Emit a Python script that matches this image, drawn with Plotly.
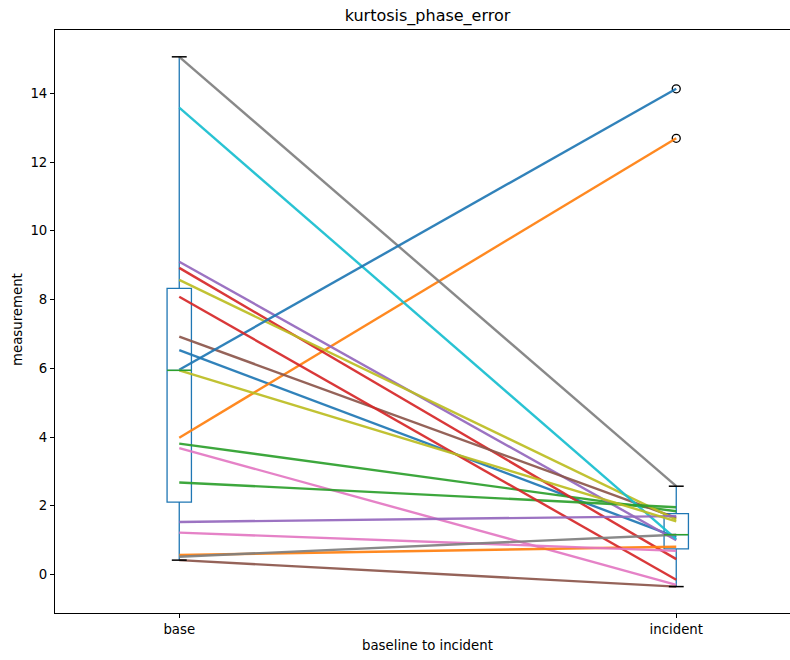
import numpy as np
import plotly.graph_objects as go

title = "kurtosis_phase_error"
categories = ["base", "incident"]
x_label = "baseline to incident"
y_label = "measurement"

# paired values (base -> incident), in plotting order
base_values = [6.53, 3.98, 3.81, 8.92, 9.10, 6.92, 3.68, 15.06, 8.57, 13.58,
               5.96, 0.57, 2.68, 8.08, 1.53, 0.42, 1.22, 0.52, 5.94]
incident_values = [1.09, 12.69, 1.84, 0.45, 1.00, 1.65, -0.30, 2.57, 1.60, 1.03,
                   14.13, 0.81, 1.96, -0.15, 1.70, -0.35, 0.69, 1.16, 1.55]

y_ticks = [0, 2, 4, 6, 8, 10, 12, 14]

tab10 = ["#1f77b4", "#ff7f0e", "#2ca02c", "#d62728", "#9467bd",
         "#8c564b", "#e377c2", "#7f7f7f", "#bcbd22", "#17becf"]

positions = [1, 2]
box_w = 0.049
cap_w = 0.03
FONT = "DejaVu Sans"

fig = go.Figure()

# paired lines
for i, (b, a) in enumerate(zip(base_values, incident_values)):
    fig.add_trace(go.Scatter(
        x=positions, y=[b, a], mode="lines",
        line=dict(color=tab10[i % 10], width=2.4),
        opacity=0.92, showlegend=False, hoverinfo="skip"))

# boxes
for pos, vals in zip(positions, [base_values, incident_values]):
    fig.add_trace(go.Box(
        x=[pos] * len(vals), y=vals, width=box_w,
        quartilemethod="inclusive", boxpoints="outliers",
        jitter=0, pointpos=0, whiskerwidth=0,
        fillcolor="rgba(0,0,0,0)",
        line=dict(color="#1f77b4", width=1.3),
        marker=dict(symbol="circle-open", color="black", size=8,
                    line=dict(width=1.3, color="black")),
        showlegend=False))
    arr = np.array(vals)
    q1, med, q3 = np.percentile(arr, [25, 50, 75])
    iqr = q3 - q1
    lo = arr[arr >= q1 - 1.5 * iqr].min()
    hi = arr[arr <= q3 + 1.5 * iqr].max()
    # median (green)
    fig.add_trace(go.Scatter(
        x=[pos - box_w / 2, pos + box_w / 2], y=[med, med], mode="lines",
        line=dict(color="#2ca02c", width=1.5), showlegend=False, hoverinfo="skip"))
    # caps (black)
    for v in (lo, hi):
        fig.add_trace(go.Scatter(
            x=[pos - cap_w / 2, pos + cap_w / 2], y=[v, v], mode="lines",
            line=dict(color="black", width=1.5), showlegend=False, hoverinfo="skip"))

fig.update_layout(
    width=790, height=660,
    margin=dict(l=55, r=0, t=30, b=47, pad=0, autoexpand=False),
    paper_bgcolor="white", plot_bgcolor="white",
    font=dict(family=FONT, size=13.3, color="black"),
    title=dict(text=title, x=427.5 / 790, xref="container", xanchor="center",
               y=1 - 15 / 660, yref="container", yanchor="middle",
               automargin=False,
               font=dict(family=FONT, size=16, color="black")),
    showlegend=False,
)
fig.update_xaxes(
    range=[0.75, 0.75 + 735 / 497], tickmode="array", tickvals=positions,
    ticktext=categories, showgrid=False, zeroline=False, automargin=False,
    showline=True, linecolor="black", linewidth=1, mirror=True,
    ticks="outside", ticklen=4, tickcolor="black",
    tickfont=dict(family=FONT, size=13.3, color="black"))
fig.update_yaxes(
    range=[-1.118, 15.84], tickmode="array", tickvals=y_ticks,
    showgrid=False, zeroline=False, automargin=False,
    showline=True, linecolor="black", linewidth=1, mirror=False,
    ticks="outside", ticklen=4, tickcolor="black",
    tickfont=dict(family=FONT, size=13.3, color="black"))

fig.add_annotation(text=x_label, xref="paper", yref="paper",
                   x=(427.5 - 55) / 735, y=-(645 - 613) / 583,
                   xanchor="center", yanchor="middle", showarrow=False,
                   font=dict(family=FONT, size=13.3, color="black"))
fig.add_annotation(text=y_label, xref="paper", yref="paper",
                   x=-(55 - 17) / 735, y=(613 - 320) / 583, textangle=-90,
                   xanchor="center", yanchor="middle", showarrow=False,
                   font=dict(family=FONT, size=13.3, color="black"))

fig.write_html(
    "out.html",
    config={"displayModeBar": False, "staticPlot": True},
    post_script="document.body.style.margin='0';document.body.style.overflow='hidden';",
)
